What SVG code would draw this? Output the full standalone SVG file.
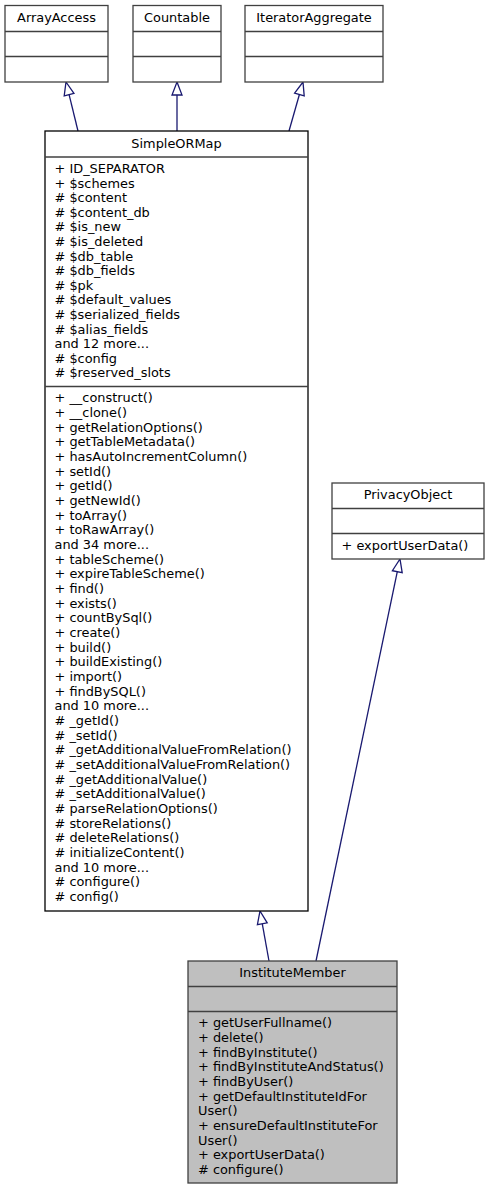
<svg xmlns="http://www.w3.org/2000/svg" width="489" height="1189" viewBox="0 0 489 1189">
<style>
text{font-family:"DejaVu Sans","Liberation Sans",sans-serif;font-size:12.9px;fill:#000}
.t{text-anchor:middle}
.box{fill:#fff;stroke:#404040;stroke-width:1.3}
.main{fill:#fff;stroke:#000;stroke-width:1.3}
.focus{fill:#bfbfbf;stroke:#404040;stroke-width:1.3}
.div{stroke:#404040;stroke-width:1.3}
.edge{fill:none;stroke:#191970;stroke-width:1.3}
.head{fill:#fff;stroke:#191970;stroke-width:1.3}
</style>
<rect width="489" height="1189" fill="#fff"/>
<g id="connectors">
<line class="edge" x1="78" y1="131" x2="69.1" y2="94.6"/>
<polygon class="head" points="66,82 73.95,93.4 64.2,95.8"/>
<line class="edge" x1="177" y1="131" x2="177" y2="95"/>
<polygon class="head" points="177,82 182,95 172,95"/>
<line class="edge" x1="289" y1="131" x2="299.4" y2="94.5"/>
<polygon class="head" points="303,82 304.2,95.9 294.6,93.1"/>
<line class="edge" x1="269" y1="961" x2="262.3" y2="923.8"/>
<polygon class="head" points="260,911 267.2,922.9 257.4,924.7"/>
<line class="edge" x1="316" y1="961" x2="397.3" y2="571.7"/>
<polygon class="head" points="400,559 402.2,572.7 392.4,570.7"/>
</g>
<g id="ArrayAccess">
<rect class="box" x="5" y="5.5" width="103" height="76.5"/>
<line class="div" x1="5" y1="31.5" x2="108" y2="31.5"/>
<line class="div" x1="5" y1="56.5" x2="108" y2="56.5"/>
<text class="t" x="56.5" y="21.7">ArrayAccess</text>
</g>
<g id="Countable">
<rect class="box" x="133" y="5.5" width="88" height="76.5"/>
<line class="div" x1="133" y1="31.5" x2="221" y2="31.5"/>
<line class="div" x1="133" y1="56.5" x2="221" y2="56.5"/>
<text class="t" x="177" y="21.7">Countable</text>
</g>
<g id="IteratorAggregate">
<rect class="box" x="245" y="5.5" width="138" height="76.5"/>
<line class="div" x1="245" y1="31.5" x2="383" y2="31.5"/>
<line class="div" x1="245" y1="56.5" x2="383" y2="56.5"/>
<text class="t" x="314" y="21.7">IteratorAggregate</text>
</g>
<g id="SimpleORMap">
<rect class="main" x="45" y="131" width="263" height="780"/>
<line class="div" x1="45" y1="157" x2="308" y2="157" stroke="#000"/>
<line class="div" x1="45" y1="386.5" x2="308" y2="386.5" stroke="#000"/>
<text class="t" x="176.5" y="147.5">SimpleORMap</text>
<text x="54.5" y="173">
<tspan x="54.5" dy="0">+ ID_SEPARATOR</tspan>
<tspan x="54.5" dy="14.6">+ $schemes</tspan>
<tspan x="54.5" dy="14.6"># $content</tspan>
<tspan x="54.5" dy="14.6"># $content_db</tspan>
<tspan x="54.5" dy="14.6"># $is_new</tspan>
<tspan x="54.5" dy="14.6"># $is_deleted</tspan>
<tspan x="54.5" dy="14.6"># $db_table</tspan>
<tspan x="54.5" dy="14.6"># $db_fields</tspan>
<tspan x="54.5" dy="14.6"># $pk</tspan>
<tspan x="54.5" dy="14.6"># $default_values</tspan>
<tspan x="54.5" dy="14.6"># $serialized_fields</tspan>
<tspan x="54.5" dy="14.6"># $alias_fields</tspan>
<tspan x="54.5" dy="14.6">and 12 more...</tspan>
<tspan x="54.5" dy="14.6"># $config</tspan>
<tspan x="54.5" dy="14.6"># $reserved_slots</tspan>
</text>
<text x="54.5" y="402.3">
<tspan x="54.5" dy="0">+ __construct()</tspan>
<tspan x="54.5" dy="14.67">+ __clone()</tspan>
<tspan x="54.5" dy="14.67">+ getRelationOptions()</tspan>
<tspan x="54.5" dy="14.67">+ getTableMetadata()</tspan>
<tspan x="54.5" dy="14.67">+ hasAutoIncrementColumn()</tspan>
<tspan x="54.5" dy="14.67">+ setId()</tspan>
<tspan x="54.5" dy="14.67">+ getId()</tspan>
<tspan x="54.5" dy="14.67">+ getNewId()</tspan>
<tspan x="54.5" dy="14.67">+ toArray()</tspan>
<tspan x="54.5" dy="14.67">+ toRawArray()</tspan>
<tspan x="54.5" dy="14.67">and 34 more...</tspan>
<tspan x="54.5" dy="14.67">+ tableScheme()</tspan>
<tspan x="54.5" dy="14.67">+ expireTableScheme()</tspan>
<tspan x="54.5" dy="14.67">+ find()</tspan>
<tspan x="54.5" dy="14.67">+ exists()</tspan>
<tspan x="54.5" dy="14.67">+ countBySql()</tspan>
<tspan x="54.5" dy="14.67">+ create()</tspan>
<tspan x="54.5" dy="14.67">+ build()</tspan>
<tspan x="54.5" dy="14.67">+ buildExisting()</tspan>
<tspan x="54.5" dy="14.67">+ import()</tspan>
<tspan x="54.5" dy="14.67">+ findBySQL()</tspan>
<tspan x="54.5" dy="14.67">and 10 more...</tspan>
<tspan x="54.5" dy="14.67"># _getId()</tspan>
<tspan x="54.5" dy="14.67"># _setId()</tspan>
<tspan x="54.5" dy="14.67"># _getAdditionalValueFromRelation()</tspan>
<tspan x="54.5" dy="14.67"># _setAdditionalValueFromRelation()</tspan>
<tspan x="54.5" dy="14.67"># _getAdditionalValue()</tspan>
<tspan x="54.5" dy="14.67"># _setAdditionalValue()</tspan>
<tspan x="54.5" dy="14.67"># parseRelationOptions()</tspan>
<tspan x="54.5" dy="14.67"># storeRelations()</tspan>
<tspan x="54.5" dy="14.67"># deleteRelations()</tspan>
<tspan x="54.5" dy="14.67"># initializeContent()</tspan>
<tspan x="54.5" dy="14.67">and 10 more...</tspan>
<tspan x="54.5" dy="14.67"># configure()</tspan>
<tspan x="54.5" dy="14.67"># config()</tspan>
</text>
</g>
<g id="PrivacyObject">
<rect class="box" x="332" y="483" width="152" height="76"/>
<line class="div" x1="332" y1="508.5" x2="484" y2="508.5"/>
<line class="div" x1="332" y1="533.5" x2="484" y2="533.5"/>
<text class="t" x="408" y="498.5">PrivacyObject</text>
<text x="341.5" y="550">+ exportUserData()</text>
</g>
<g id="InstituteMember">
<rect class="focus" x="188" y="961" width="209" height="222"/>
<line class="div" x1="188" y1="986.5" x2="397" y2="986.5"/>
<line class="div" x1="188" y1="1011.5" x2="397" y2="1011.5"/>
<text class="t" x="292.5" y="976.7">InstituteMember</text>
<text x="198" y="1027.3">
<tspan x="198" dy="0">+ getUserFullname()</tspan>
<tspan x="198" dy="14.67">+ delete()</tspan>
<tspan x="198" dy="14.67">+ findByInstitute()</tspan>
<tspan x="198" dy="14.67">+ findByInstituteAndStatus()</tspan>
<tspan x="198" dy="14.67">+ findByUser()</tspan>
<tspan x="198" dy="14.67">+ getDefaultInstituteIdFor</tspan>
<tspan x="198" dy="14.67">User()</tspan>
<tspan x="198" dy="14.67">+ ensureDefaultInstituteFor</tspan>
<tspan x="198" dy="14.67">User()</tspan>
<tspan x="198" dy="14.67">+ exportUserData()</tspan>
<tspan x="198" dy="14.67"># configure()</tspan>
</text>
</g>
</svg>
